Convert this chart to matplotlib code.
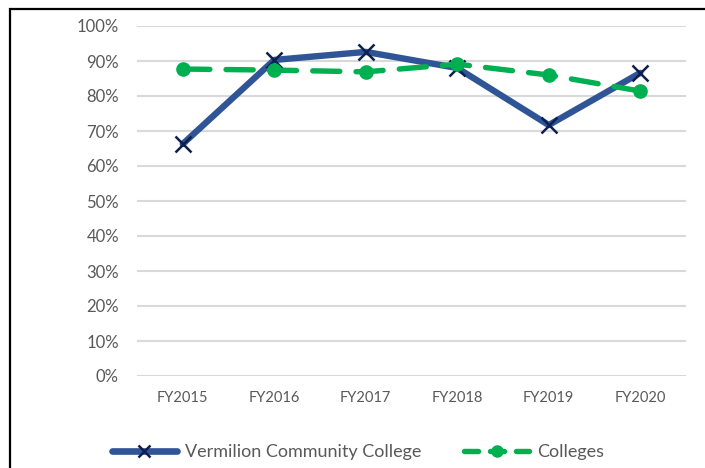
import matplotlib
matplotlib.use("Agg")
import matplotlib.pyplot as plt
from matplotlib.lines import Line2D
from matplotlib.patches import Rectangle
from matplotlib.ticker import PercentFormatter

categories = ["FY2015", "FY2016", "FY2017", "FY2018", "FY2019", "FY2020"]
vermilion = [0.663, 0.903, 0.926, 0.880, 0.717, 0.866]
colleges = [0.877, 0.874, 0.869, 0.891, 0.860, 0.814]
y_ticks = [0, 0.1, 0.2, 0.3, 0.4, 0.5, 0.6, 0.7, 0.8, 0.9, 1.0]
series_names = ["Vermilion Community College", "Colleges"]

plt.rcParams['font.family'] = ['Lato', 'DejaVu Sans']
text_color = "#595959"
blue = "#2F5597"
navy = "#0D1F4F"
green = "#00B050"

fig = plt.figure(figsize=(7.05, 4.68), dpi=100)
ax = fig.add_axes([137/705, 1 - 376/468, (686 - 137)/705, (376 - 26)/468])

x = list(range(len(categories)))
ax.plot(x, vermilion, color=blue, lw=4.6, solid_capstyle='round', zorder=3,
        marker='x', markersize=11, markeredgewidth=1.8, markeredgecolor=navy)
ax.plot(x, colleges, color=green, lw=3.9, dashes=(5, 3), dash_capstyle='round', zorder=4,
        marker='o', markersize=9.5, markerfacecolor=green, markeredgecolor=green)

ax.set_xlim(-0.5, len(categories) - 0.5)
ax.set_ylim(0, 1)
ax.set_yticks(y_ticks)
ax.yaxis.set_major_formatter(PercentFormatter(1.0, decimals=0))
ax.set_xticks(x)
ax.set_xticklabels(categories)
ax.grid(axis='y', color='#D9D9D9', lw=1.5, zorder=0)
ax.set_axisbelow(True)
for s in ax.spines.values():
    s.set_visible(False)
ax.tick_params(axis='both', length=0, colors=text_color)
ax.tick_params(axis='y', labelsize=12, pad=13)
ax.tick_params(axis='x', labelsize=10.5, pad=11)

# figure frame (chart area border, partly cropped)
fig.patches.append(Rectangle((10/705, -0.05), 1.2, 1 - 9/468 + 0.05, transform=fig.transFigure,
                             fill=False, edgecolor='black', lw=1.6))

handles = [
    Line2D([], [], color=blue, lw=4.8, solid_capstyle='round', marker='x', markersize=9,
           markeredgewidth=1.8, markeredgecolor=navy),
    Line2D([], [], color=green, lw=3.9, dashes=(2.6, 2.2), dash_capstyle='round', marker='o',
           markersize=8, markerfacecolor=green, markeredgecolor=green),
]
leg = fig.legend(handles, series_names, loc='center', bbox_to_anchor=(358/705, 1 - 452/468),
                 ncol=2, frameon=False, fontsize=13, handlelength=3.6, handletextpad=0.45,
                 columnspacing=2.4, numpoints=1, labelcolor=text_color)

fig.savefig("out.png", dpi=100)
